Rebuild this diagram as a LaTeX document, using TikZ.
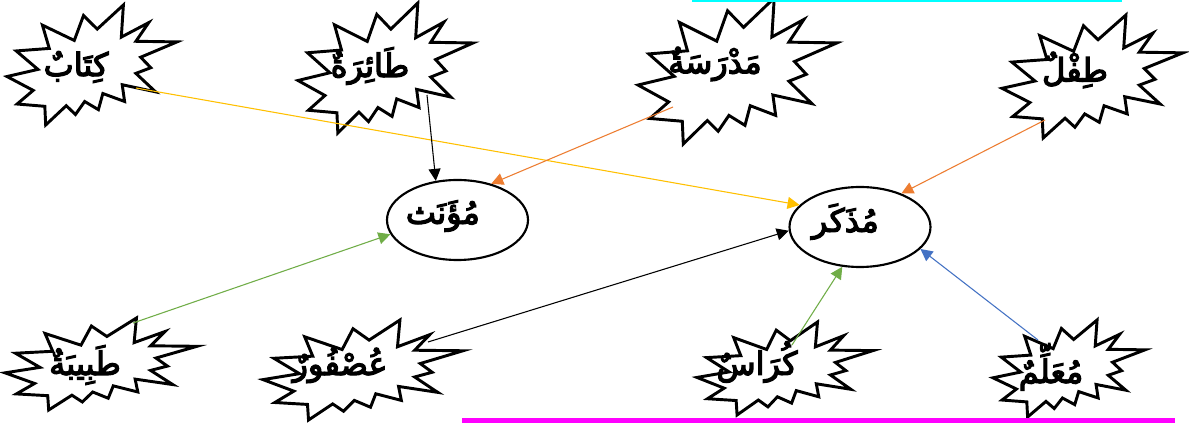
\documentclass[tikz,border=0pt]{standalone}
\usepackage{fontspec}
\newfontfamily\arabicfont[Script=Arabic,FakeBold=4]{DejaVu Sans}
\TeXXeTstate=1
\usetikzlibrary{arrows.meta,shapes.geometric}
\definecolor{LineYellow}{RGB}{255,192,0}
\definecolor{LineOrange}{RGB}{237,125,49}
\definecolor{LineGreen}{RGB}{112,173,71}
\definecolor{LineBlue}{RGB}{68,114,196}
\definecolor{BarCyan}{RGB}{0,255,255}
\definecolor{BarMagenta}{RGB}{255,0,255}
\newcommand\arword[1]{{\arabicfont\beginR#1\endR}}
% explosion outline in a unit box, y running down
\newcommand\burstpath{(0.5306,0.2010) -- (0.6847,0) -- (0.6725,0.2675) -- (0.8337,0.1469) -- (0.7583,0.3024) -- (1,0.3076) -- (0.7863,0.4353) -- (0.8458,0.5227) -- (0.7583,0.5699) -- (0.8739,0.7237) -- (0.6778,0.6644) -- (0.6918,0.8042) -- (0.5639,0.7377) -- (0.5376,0.8723) -- (0.4570,0.8042) -- (0.4028,0.9126) -- (0.3485,0.8391) -- (0.2276,1) -- (0.2225,0.8444) -- (0.0595,0.8252) -- (0.1542,0.7116) -- (0,0.5962) -- (0.1822,0.5367) -- (0.0543,0.3829) -- (0.2487,0.3619) -- (0.2084,0.1678) -- (0.3958,0.2955) -- (0.4501,0.0874) -- cycle}
\newcommand\burst[4]{\draw[burstline,shift={(#1,#2)},xscale=#3,yscale=#4] \burstpath;}
\tikzset{
  burstline/.style={draw=black,line width=2.2pt,fill=white,line join=miter},
  word/.style={font=\fontsize{24}{28}\selectfont,inner sep=0pt},
  gender/.style={ellipse,draw=black,line width=1.6pt,fill=white,minimum width=105.75pt,minimum height=60pt},
  link/.style={-{Triangle[length=9pt,width=9pt]},line width=.8pt,draw=#1},
  link/.default=black
}
\begin{document}
\begin{tikzpicture}[x=.75pt,y=-.75pt]
  \useasboundingbox (0,0) rectangle (1189,423);
  \fill[white] (0,0) rectangle (1189,423);
  \burst{7}{5}{170}{120}
  \burst{298}{3}{175}{130}
  \burst{638}{-2}{199}{146}
  \burst{1002}{15}{181}{123}
  \burst{5}{318}{192}{92}
  \burst{263}{320}{200}{100}
  \burst{697}{322}{176}{93}
  \burst{993}{320}{152}{97}
  \node[word] (kitab) at (76,67) {\arword{كِتَابٌ}};
  \node[word] (taira) at (370,66) {\arword{طَائِرَةٌ}};
  \node[word] (madrasa) at (715,64) {\arword{مَدْرَسَةٌ}};
  \node[word] (tifl) at (1075,70) {\arword{طِفْلٌ}};
  \node[word] (tabiba) at (85,365) {\arword{طَبِيبَةٌ}};
  \node[word] (usfur) at (340,365) {\arword{عُصْفُورٌ}};
  \node[word] (kurras) at (757,362) {\arword{كُرَاسٌ}};
  \node[word] (muallim) at (1051,367) {\arword{مُعَلِّمٌ}};
  \node[gender,label={[word,xshift=-11pt,yshift=3pt]center:\arword{مُؤَنَث}}] (muannath) at (457.5,220) {};
  \node[gender,label={[word,xshift=-11pt,yshift=4pt]center:\arword{مُذَكَر}}] (mudhakkar) at (860,227) {};
  \draw[link=LineYellow] ([shift={(60,21)}]kitab.center) -- (mudhakkar.160);
  \draw[link] ([shift={(57,29)}]taira.center) -- (muannath.119);
  \draw[link=LineOrange] ([shift={(-42,43)}]madrasa.center) -- (muannath.47);
  \draw[link=LineOrange] ([shift={(-30,50)}]tifl.center) -- (mudhakkar.39);
  \draw[link=LineGreen] ([shift={(48,-42)}]tabiba.center) -- (muannath.192);
  \draw[link] ([shift={(88,-23)}]usfur.center) -- (mudhakkar.183);
  \draw[link=LineGreen] ([shift={(35,-17)}]kurras.center) -- (mudhakkar.246);
  \draw[link=LineBlue] ([shift={(-13,-27)}]muallim.center) -- (mudhakkar.340);
  \fill[BarCyan] (692,0) rectangle (1122,2.5);
  \fill[BarMagenta] (462,418) rectangle (1175,423);
\end{tikzpicture}
\end{document}
